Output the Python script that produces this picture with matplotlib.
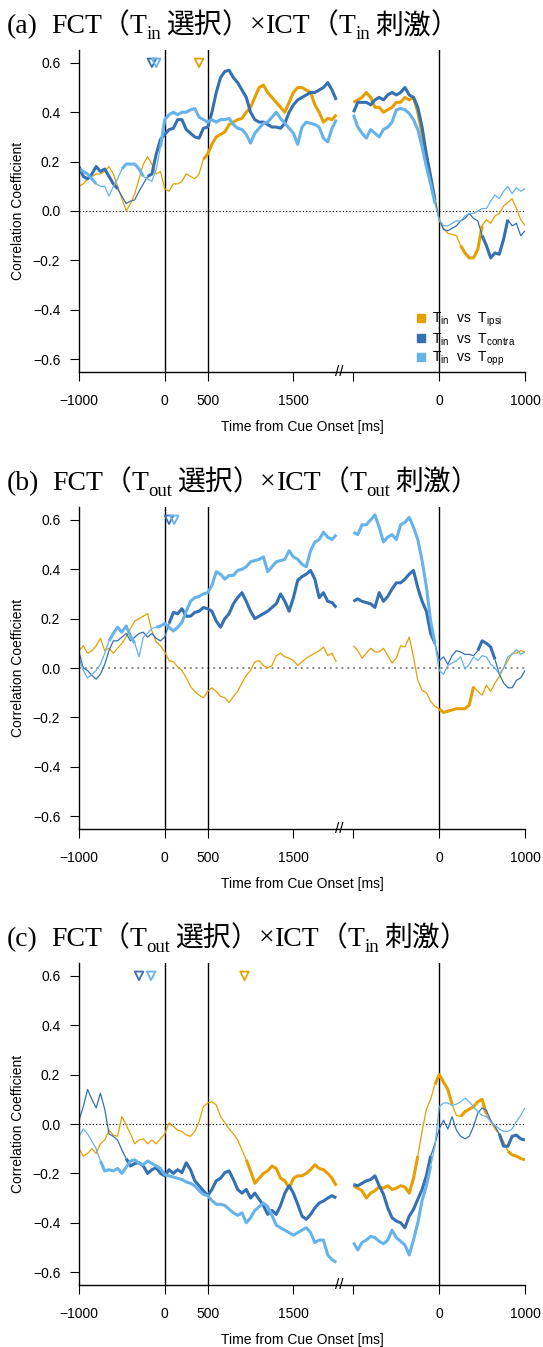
import matplotlib.pyplot as plt
import numpy as np
from matplotlib.lines import Line2D

plt.rcParams['font.family'] = ['Liberation Sans', 'DejaVu Sans']

# time bases (ms): left block aligned to cue onset, right block to the second event
t_left = np.arange(-1000, 2001, 50)
t_right = np.arange(-1000, 1001, 50)
RIGHT_SHIFT = 3200  # where the right block's 0 sits on the shared axis

# ---- (a) FCT(Tin choice) x ICT(Tin stim) ----
a_ipsi_L = [0.10, 0.11, 0.13, 0.14, 0.15, 0.15, 0.16, 0.18, 0.15, 0.10, 0.05, 0.00, 0.03, 0.07, 0.13, 0.19, 0.22, 0.19, 0.15, 0.16,
            0.09, 0.08, 0.11, 0.11, 0.12, 0.15, 0.14, 0.13, 0.15, 0.21, 0.23, 0.27, 0.30, 0.31, 0.32, 0.35, 0.36, 0.37, 0.375, 0.40,
            0.42, 0.46, 0.50, 0.51, 0.48, 0.46, 0.44, 0.42, 0.40, 0.44, 0.48, 0.50, 0.50, 0.49, 0.48, 0.43, 0.40, 0.36, 0.375, 0.37, 0.39]
a_ipsi_R = [0.44, 0.45, 0.46, 0.48, 0.46, 0.42, 0.42, 0.40, 0.41, 0.42, 0.44, 0.44, 0.46, 0.45, 0.46, 0.40, 0.31, 0.22, 0.13, 0.06,
            -0.04, -0.07, -0.09, -0.095, -0.10, -0.14, -0.17, -0.19, -0.19, -0.155, -0.06, -0.035, -0.05, -0.02, -0.01, 0.02, 0.035, 0.05, 0.01, -0.035, -0.06]
a_contra_L = [0.18, 0.14, 0.13, 0.15, 0.18, 0.16, 0.17, 0.14, 0.11, 0.09, 0.06, 0.03, 0.04, 0.045, 0.08, 0.11, 0.14, 0.15, 0.23, 0.29,
              0.31, 0.33, 0.335, 0.37, 0.37, 0.33, 0.315, 0.30, 0.295, 0.335, 0.34, 0.40, 0.48, 0.54, 0.565, 0.57, 0.54, 0.52, 0.49, 0.46,
              0.40, 0.37, 0.36, 0.36, 0.35, 0.34, 0.34, 0.335, 0.355, 0.40, 0.43, 0.45, 0.46, 0.47, 0.48, 0.48, 0.49, 0.50, 0.52, 0.49, 0.45]
a_contra_R = [0.40, 0.44, 0.44, 0.44, 0.43, 0.45, 0.46, 0.45, 0.47, 0.48, 0.47, 0.48, 0.50, 0.47, 0.46, 0.42, 0.34, 0.23, 0.14, 0.045,
              -0.035, -0.075, -0.08, -0.07, -0.06, -0.04, -0.03, -0.01, -0.03, -0.04, -0.10, -0.14, -0.19, -0.17, -0.175, -0.115, -0.035, -0.06, -0.05, -0.10, -0.08]
a_opp_L = [0.17, 0.16, 0.15, 0.13, 0.11, 0.10, 0.10, 0.06, 0.10, 0.13, 0.17, 0.19, 0.19, 0.19, 0.17, 0.14, 0.13, 0.12, 0.17, 0.26,
           0.37, 0.39, 0.40, 0.39, 0.40, 0.40, 0.41, 0.415, 0.38, 0.37, 0.36, 0.37, 0.36, 0.37, 0.37, 0.375, 0.35, 0.335, 0.33, 0.31,
           0.275, 0.315, 0.335, 0.355, 0.36, 0.38, 0.40, 0.375, 0.355, 0.335, 0.315, 0.27, 0.34, 0.36, 0.355, 0.35, 0.34, 0.295, 0.28, 0.335, 0.37]
a_opp_R = [0.39, 0.34, 0.315, 0.295, 0.33, 0.315, 0.30, 0.33, 0.34, 0.36, 0.41, 0.415, 0.41, 0.395, 0.37, 0.33, 0.26, 0.18, 0.11, 0.03,
           -0.035, -0.06, -0.06, -0.05, -0.04, -0.04, -0.02, -0.01, -0.01, 0.0, 0.01, 0.01, 0.04, 0.065, 0.05, 0.08, 0.10, 0.07, 0.095, 0.08, 0.09]

# ---- (b) FCT(Tout choice) x ICT(Tout stim) ----
b_ipsi_L = [0.07, 0.09, 0.06, 0.07, 0.09, 0.12, 0.07, 0.08, 0.06, 0.08, 0.10, 0.126, 0.16, 0.19, 0.20, 0.21, 0.22, 0.15, 0.105, 0.09,
            0.065, 0.03, 0.025, 0.005, -0.01, -0.04, -0.075, -0.095, -0.11, -0.12, -0.095, -0.08, -0.095, -0.115, -0.12, -0.14, -0.115, -0.095, -0.06, -0.03,
            -0.01, 0.025, 0.03, 0.01, 0.0, 0.01, 0.05, 0.06, 0.045, 0.04, 0.03, 0.01, 0.025, 0.04, 0.05, 0.06, 0.07, 0.085, 0.05, 0.06, 0.025]
b_ipsi_R = [0.09, 0.07, 0.04, 0.06, 0.08, 0.065, 0.065, 0.08, 0.05, 0.02, 0.04, 0.09, 0.085, 0.125, 0.045, -0.05, -0.09, -0.10, -0.135, -0.155,
            -0.165, -0.18, -0.175, -0.17, -0.165, -0.165, -0.165, -0.15, -0.075, -0.095, -0.11, -0.07, -0.095, -0.06, -0.035, 0.0, 0.03, 0.06, 0.06, 0.07, 0.065]
b_contra_L = [0.065, 0.0, -0.01, -0.03, -0.045, -0.025, 0.015, 0.07, 0.11, 0.11, 0.125, 0.14, 0.11, 0.125, 0.14, 0.145, 0.125, 0.14, 0.12, 0.11,
              0.125, 0.18, 0.225, 0.22, 0.24, 0.21, 0.21, 0.225, 0.23, 0.245, 0.24, 0.23, 0.19, 0.165, 0.20, 0.22, 0.26, 0.285, 0.305, 0.27,
              0.23, 0.20, 0.21, 0.22, 0.23, 0.245, 0.26, 0.30, 0.27, 0.23, 0.285, 0.355, 0.37, 0.38, 0.395, 0.36, 0.285, 0.305, 0.27, 0.265, 0.245]
b_contra_R = [0.27, 0.28, 0.27, 0.265, 0.26, 0.245, 0.305, 0.27, 0.29, 0.32, 0.345, 0.345, 0.36, 0.38, 0.395, 0.325, 0.27, 0.23, 0.14, 0.10,
              0.03, 0.045, 0.015, 0.05, 0.07, 0.065, 0.055, 0.055, 0.05, 0.07, 0.11, 0.10, 0.085, 0.035, -0.025, -0.06, -0.08, -0.08, -0.05, -0.04, -0.01]
b_opp_L = [0.04, -0.01, -0.04, -0.025, -0.01, 0.015, 0.06, 0.11, 0.14, 0.165, 0.145, 0.17, 0.13, 0.10, 0.045, 0.125, 0.14, 0.16, 0.165, 0.17,
           0.18, 0.165, 0.15, 0.165, 0.185, 0.23, 0.27, 0.285, 0.29, 0.30, 0.305, 0.335, 0.39, 0.38, 0.36, 0.375, 0.375, 0.395, 0.40, 0.41,
           0.43, 0.435, 0.44, 0.45, 0.39, 0.41, 0.43, 0.435, 0.44, 0.475, 0.45, 0.44, 0.42, 0.41, 0.475, 0.51, 0.52, 0.55, 0.53, 0.52, 0.54]
b_opp_R = [0.55, 0.54, 0.58, 0.58, 0.60, 0.62, 0.57, 0.51, 0.53, 0.54, 0.52, 0.58, 0.59, 0.61, 0.57, 0.52, 0.435, 0.33, 0.19, 0.10,
           -0.01, -0.025, 0.01, 0.02, 0.03, 0.045, -0.005, 0.015, 0.045, 0.03, 0.05, 0.045, 0.015, 0.0, -0.025, 0.0, 0.045, 0.055, 0.075, 0.055, 0.065]

# ---- (c) FCT(Tout choice) x ICT(Tin stim) ----
c_ipsi_L = [-0.10, -0.13, -0.12, -0.10, -0.12, -0.08, -0.065, -0.025, -0.045, -0.05, 0.03, -0.005, -0.04, -0.08, -0.065, -0.06, -0.08, -0.065, -0.08, -0.06,
            -0.04, 0.005, -0.01, -0.025, -0.03, -0.045, -0.05, -0.03, 0.01, 0.07, 0.085, 0.09, 0.077, 0.03, 0.005, -0.02, -0.04, -0.065, -0.105, -0.145,
            -0.19, -0.24, -0.22, -0.20, -0.19, -0.17, -0.18, -0.22, -0.23, -0.26, -0.22, -0.21, -0.21, -0.20, -0.185, -0.165, -0.18, -0.185, -0.20, -0.22, -0.25]
c_ipsi_R = [-0.25, -0.26, -0.27, -0.30, -0.28, -0.27, -0.255, -0.26, -0.25, -0.265, -0.26, -0.25, -0.255, -0.28, -0.22, -0.13, -0.03, 0.06, 0.10, 0.16,
            0.20, 0.17, 0.14, 0.08, 0.035, 0.03, 0.05, 0.06, 0.07, 0.09, 0.10, 0.04, 0.01, -0.02, -0.04, -0.07, -0.11, -0.125, -0.13, -0.14, -0.145]
c_contra_L = [0.015, 0.07, 0.14, 0.10, 0.065, 0.125, 0.06, -0.04, -0.05, -0.065, -0.105, -0.14, -0.17, -0.16, -0.157, -0.17, -0.20, -0.185, -0.177, -0.20,
              -0.21, -0.185, -0.20, -0.185, -0.197, -0.157, -0.185, -0.23, -0.25, -0.27, -0.29, -0.265, -0.23, -0.22, -0.197, -0.19, -0.225, -0.265, -0.28, -0.265,
              -0.30, -0.28, -0.305, -0.33, -0.366, -0.35, -0.366, -0.33, -0.28, -0.25, -0.28, -0.325, -0.373, -0.386, -0.366, -0.34, -0.32, -0.312, -0.30, -0.29, -0.30]
c_contra_R = [-0.245, -0.25, -0.24, -0.23, -0.225, -0.21, -0.25, -0.285, -0.34, -0.38, -0.393, -0.40, -0.42, -0.373, -0.346, -0.305, -0.265, -0.21, -0.13, -0.08,
              -0.02, 0.015, -0.02, 0.03, -0.025, -0.05, -0.06, -0.05, -0.01, 0.045, 0.065, 0.055, 0.015, -0.01, -0.04, -0.09, -0.09, -0.05, -0.045, -0.06, -0.065]
c_opp_L = [-0.05, -0.02, -0.04, -0.07, -0.10, -0.15, -0.19, -0.185, -0.19, -0.18, -0.20, -0.175, -0.15, -0.145, -0.16, -0.165, -0.15, -0.16, -0.17, -0.18,
           -0.205, -0.21, -0.215, -0.22, -0.225, -0.235, -0.24, -0.25, -0.27, -0.285, -0.29, -0.31, -0.325, -0.325, -0.33, -0.345, -0.36, -0.37, -0.36, -0.40,
           -0.38, -0.35, -0.335, -0.32, -0.335, -0.37, -0.41, -0.42, -0.43, -0.44, -0.45, -0.44, -0.43, -0.42, -0.44, -0.48, -0.47, -0.47, -0.53, -0.55, -0.56]
c_opp_R = [-0.48, -0.51, -0.48, -0.47, -0.455, -0.46, -0.475, -0.485, -0.47, -0.43, -0.46, -0.475, -0.49, -0.53, -0.47, -0.40, -0.31, -0.25, -0.17, -0.09,
           0.07, 0.085, 0.085, 0.075, 0.08, 0.09, 0.105, 0.09, 0.07, 0.05, 0.035, 0.03, 0.01, -0.005, -0.02, -0.03, -0.03, -0.02, 0.01, 0.035, 0.065]

# significant stretches (drawn thick): (block, start, end)
a_ipsi_sig = [('L', 450, 2000), ('R', -1000, -150), ('R', 250, 450)]
a_contra_sig = [('L', -1000, -600), ('L', -200, 2000), ('R', -1000, -100), ('R', 500, 750)]
a_opp_sig = [('L', -1000, -850), ('L', -500, -300), ('L', -50, 2000), ('R', -1000, -100)]
b_ipsi_sig = [('R', 0, 350)]
b_contra_sig = [('L', 50, 2000), ('R', -1000, -100), ('R', 450, 600)]
b_opp_sig = [('L', -650, -400), ('L', -100, 2000), ('R', -1000, -100)]
c_ipsi_sig = [('L', 950, 2000), ('R', -1000, -300), ('R', -50, 100), ('R', 250, 500), ('R', 800, 1000)]
c_contra_sig = [('L', -450, 2000), ('R', -1000, -150), ('R', 700, 1000)]
c_opp_sig = [('L', -750, 2000), ('R', -1000, -150)]

# latency markers (ms, cue-aligned)
a_onsets = [('contra', -150), ('opp', -100), ('ipsi', 400)]
b_onsets = [('contra', 50), ('opp', 110)]
c_onsets = [('contra', -300), ('opp', -160), ('ipsi', 930)]

colors = {'ipsi': '#E69F00', 'contra': '#3470B2', 'opp': '#66B2EA'}
W, H = 543, 1347
serif = ['Liberation Serif', 'Noto Sans CJK JP']


def draw_trace(ax, t, y, sig, block, color, shift=0):
    t = np.asarray(t)
    y = np.asarray(y)
    thick = np.zeros(len(t), bool)
    for b, s, e in sig:
        if b == block:
            thick |= (t >= s) & (t <= e)
    start = 0
    for i in range(1, len(t) + 1):
        if i == len(t) or thick[i] != thick[start]:
            stop = min(i + 1, len(t))
            ax.plot(t[start:stop] + shift, y[start:stop], color=color,
                    lw=2.2 if thick[start] else 0.9, solid_capstyle='butt')
            start = i


def draw_title(fig, y_px, pieces):
    # lay the title out piece by piece so subscripts and CJK can mix
    renderer = fig.canvas.get_renderer()
    x = 7
    for text, size, dy, gap in pieces:
        txt = fig.text(x / W, (H - y_px - dy) / H, text, fontsize=size,
                       family=serif, va='baseline', ha='left')
        bb = txt.get_window_extent(renderer)
        x = bb.x1 + gap


def title_pieces(letter, sub1, sub2):
    big, small = 20, 13.5
    return [(f'({letter})', big, 0, 13), ('FCT', big, 0, 0), ('（', big, 0, 0),
            ('T', big, 0, 0), (sub1, small, 6, 5), ('選択', big, 0, 0), ('）', big, 0, 0),
            ('×', big, 0, 1), ('ICT', big, 0, 0), ('（', big, 0, 0),
            ('T', big, 0, 0), (sub2, small, 6, 5), ('刺激', big, 0, 0), ('）', big, 0, 0)]


fig = plt.figure(figsize=(W / 100, H / 100), dpi=100)

panels = [
    (50, {'ipsi': (a_ipsi_L, a_ipsi_R, a_ipsi_sig), 'contra': (a_contra_L, a_contra_R, a_contra_sig),
          'opp': (a_opp_L, a_opp_R, a_opp_sig)}, a_onsets, ('a', 'in', 'in'), 33),
    (507, {'ipsi': (b_ipsi_L, b_ipsi_R, b_ipsi_sig), 'contra': (b_contra_L, b_contra_R, b_contra_sig),
           'opp': (b_opp_L, b_opp_R, b_opp_sig)}, b_onsets, ('b', 'out', 'out'), 490),
    (963, {'ipsi': (c_ipsi_L, c_ipsi_R, c_ipsi_sig), 'contra': (c_contra_L, c_contra_R, c_contra_sig),
           'opp': (c_opp_L, c_opp_R, c_opp_sig)}, c_onsets, ('c', 'out', 'in'), 946),
]

for k, (top_px, series, onsets, ttl, title_y) in enumerate(panels):
    ax = fig.add_axes([79 / W, 1 - (top_px + 322) / H, 446 / W, 322 / H])
    ax.set_xlim(-1000, 1000 + RIGHT_SHIFT)
    ax.set_ylim(-0.652, 0.652)

    if k == 1:
        ax.axhline(0, color='#8a8a8a', lw=1.4, ls=(0, (1, 2)), zorder=1)
    else:
        ax.axhline(0, color='black', lw=0.8, ls=(0, (1, 2)), zorder=1)
    for xv in (0, 500, RIGHT_SHIFT):
        ax.axvline(xv, color='black', lw=1.0, zorder=1)

    for name in ('ipsi', 'contra', 'opp'):
        left, right, sig = series[name]
        draw_trace(ax, t_left, left, sig, 'L', colors[name])
        draw_trace(ax, t_right, right, sig, 'R', colors[name], shift=RIGHT_SHIFT)

    for name, t0 in onsets:
        ax.scatter([t0], [0.6], marker='v', s=38, facecolors='none',
                   edgecolors=colors[name], linewidths=1.3, zorder=5)

    for side in ('top', 'right'):
        ax.spines[side].set_visible(False)
    for side in ('left', 'bottom'):
        ax.spines[side].set_linewidth(1.0)

    yt = [-0.6, -0.4, -0.2, 0.0, 0.2, 0.4, 0.6]
    ax.set_yticks(yt)
    ax.set_yticklabels([f'{v:.1f}'.replace('-', '\u2212') for v in yt])
    ax.set_xticks([-1000, 0, 500, 1500, RIGHT_SHIFT - 1000, RIGHT_SHIFT, RIGHT_SHIFT + 1000])
    ax.set_xticklabels(['\u22121000', '0', '500', '1500', '', '0', '1000'])
    ax.tick_params(axis='both', direction='out', length=6.5, width=0.8, labelsize=10)
    ax.tick_params(axis='y', pad=7)
    ax.tick_params(axis='x', pad=9.5)

    # axis break mark
    ax.text(2030, 0, '//', transform=ax.get_xaxis_transform(), ha='center',
            va='center', fontsize=11, clip_on=False)

    ax.set_xlabel('Time from Cue Onset [ms]', fontsize=10)
    ax.xaxis.set_label_coords(0.5, -0.148)
    ax.set_ylabel('Correlation Coefficient', fontsize=10)
    ax.yaxis.set_label_coords(-0.12, 0.5)

    if k == 0:
        handles = [Line2D([], [], marker='s', ls='none', color=colors[n], markersize=6)
                   for n in ('ipsi', 'contra', 'opp')]
        labels = [r'$\mathregular{T_{in}}$  vs  $\mathregular{T_{ipsi}}$',
                  r'$\mathregular{T_{in}}$  vs  $\mathregular{T_{contra}}$',
                  r'$\mathregular{T_{in}}$  vs  $\mathregular{T_{opp}}$']
        ax.legend(handles, labels, loc='upper left', bbox_to_anchor=(0.755, 0.19),
                  frameon=False, fontsize=10, handlelength=0.8, handletextpad=0.4,
                  labelspacing=0.15, borderpad=0, borderaxespad=0)

    draw_title(fig, title_y, title_pieces(*ttl))

fig.savefig('out.png', dpi=100)
